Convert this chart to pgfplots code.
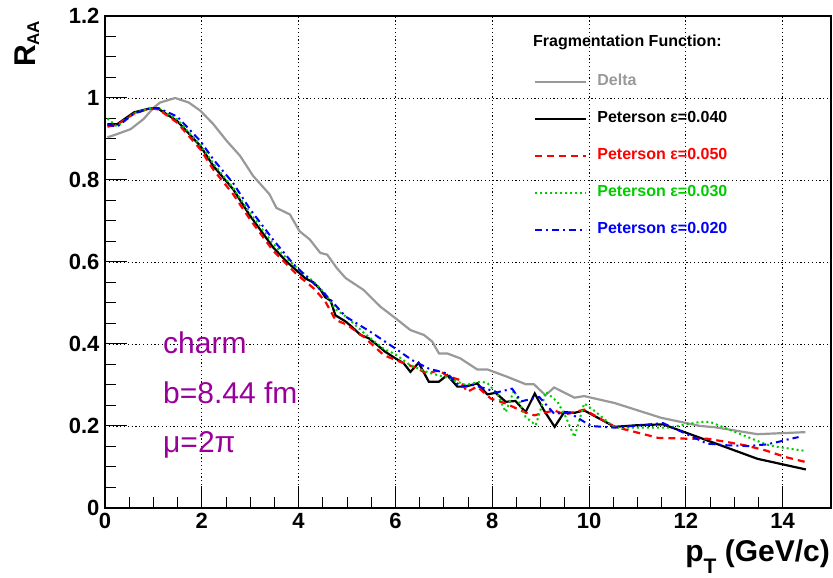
\documentclass[border=0pt]{standalone}
\usepackage{pgfplots}
\pgfplotsset{compat=1.18}
\usepackage{fontspec}
\setmainfont{Liberation Sans}
\definecolor{rgray}{rgb}{0.6,0.6,0.6}
\definecolor{rgreen}{rgb}{0.0,0.8,0.0}
\definecolor{rpurple}{rgb}{0.6,0.0,0.6}
\begin{document}
\begin{tikzpicture}
\useasboundingbox (0,0) rectangle (833pt,578pt);
\begin{axis}[
  at={(105pt,70pt)}, anchor=south west,
  scale only axis, width=726pt, height=492pt,
  xmin=0, xmax=15, ymin=0, ymax=1.2,
  xtick={0,2,...,14}, ytick={0,0.2,0.4,0.6,0.8,1.0,1.2},
  minor x tick num=3, minor y tick num=3,
  tick pos=left, tick align=inside,
  major tick length=22pt, minor tick length=11pt,
  tick style={black, line width=1pt},
  axis line style={line width=1.3pt},
  grid=major,
  major grid style={black, line width=0.9pt, dash pattern=on 1.2pt off 2.6pt},
  /pgf/number format/assume math mode=true,
  ticklabel style={font=\fontsize{22}{22}\selectfont\bfseries},
  yticklabel style={xshift=-2pt},
  xticklabel style={yshift=-2pt},
  xlabel={p\raisebox{-12pt}{\fontsize{21}{21}\selectfont T} (GeV/c)},
  xlabel style={at={(axis description cs:1,0)}, anchor=base east, yshift=-54pt, xshift=-1pt, inner sep=0pt, font=\fontsize{30}{30}\selectfont\bfseries},
  ylabel={R\raisebox{-4pt}{\fontsize{17}{17}\selectfont AA}},
  ylabel style={at={(axis description cs:-0.0964,0.896)}, anchor=base west, inner sep=0pt, font=\fontsize{30}{30}\selectfont\bfseries},
  legend style={draw=none, fill=none, at={(rel axis cs:0.5868,0.887)}, anchor=north west,
    font=\fontsize{16}{16}\selectfont\bfseries, row sep=21pt, column sep=0pt,
    nodes={inner sep=0pt, text height=12pt, text depth=4pt}},
  legend cell align=left,
  legend image code/.code={\draw[#1] (0pt,0pt) -- (51pt,0pt); \path (61pt,0pt);},
]
\addplot[rgray, line width=2.2pt] coordinates {
(0.05,0.904)(0.25,0.912)(0.53,0.924)(0.80,0.949)(1.01,0.977)(1.14,0.989)(1.45,1.0)(1.73,0.989)(1.97,0.969)(2.24,0.936)(2.51,0.896)(2.79,0.859)(3.06,0.810)(3.40,0.765)(3.54,0.732)(3.82,0.716)(4.02,0.675)(4.23,0.655)(4.45,0.622)(4.59,0.618)(4.79,0.585)(4.97,0.561)(5.34,0.532)(5.69,0.491)(6.0,0.463)(6.31,0.434)(6.59,0.422)(6.76,0.406)(6.90,0.377)(7.07,0.377)(7.34,0.365)(7.69,0.338)(7.90,0.338)(8.31,0.320)(8.69,0.302)(8.86,0.302)(9.10,0.275)(9.28,0.294)(9.70,0.269)(9.90,0.273)(10.53,0.256)(11.49,0.220)(12.3,0.200)(12.6,0.197)(13.48,0.180)(14.47,0.185)};
\addlegendentry{\textcolor{rgray}{Delta}}
\addplot[black, line width=2.2pt] coordinates {
(0.05,0.936)(0.25,0.936)(0.60,0.965)(0.94,0.975)(1.11,0.973)(1.49,0.944)(1.97,0.883)(2.24,0.834)(2.65,0.777)(2.99,0.714)(3.47,0.636)(3.76,0.600)(3.97,0.578)(4.14,0.560)(4.31,0.550)(4.45,0.533)(4.55,0.514)(4.66,0.506)(4.76,0.470)(4.97,0.455)(5.10,0.442)(5.28,0.422)(5.45,0.414)(5.62,0.398)(5.79,0.381)(6.0,0.365)(6.17,0.353)(6.31,0.332)(6.48,0.354)(6.69,0.308)(6.90,0.308)(7.07,0.324)(7.28,0.296)(7.45,0.296)(7.69,0.304)(7.90,0.277)(8.07,0.281)(8.28,0.259)(8.48,0.261)(8.69,0.234)(8.88,0.279)(9.07,0.238)(9.29,0.198)(9.49,0.234)(9.70,0.232)(9.90,0.238)(10.53,0.198)(11.01,0.202)(11.53,0.204)(12.3,0.171)(13.48,0.120)(14.48,0.094)};
\addlegendentry{\textcolor{black}{Peterson ε=0.040}}
\addplot[red, line width=2.2pt, dash pattern=on 7pt off 5pt] coordinates {
(0.05,0.930)(0.25,0.935)(0.60,0.962)(0.94,0.975)(1.11,0.972)(1.49,0.940)(1.97,0.875)(2.24,0.825)(2.65,0.765)(2.99,0.705)(3.47,0.628)(3.69,0.602)(3.97,0.569)(4.31,0.536)(4.55,0.504)(4.76,0.459)(5.0,0.447)(5.34,0.418)(5.76,0.373)(6.0,0.361)(6.38,0.344)(6.66,0.328)(6.90,0.336)(7.07,0.322)(7.34,0.312)(7.48,0.283)(7.69,0.296)(7.97,0.267)(8.28,0.255)(8.66,0.234)(8.87,0.226)(9.28,0.238)(9.5,0.228)(9.9,0.240)(10.53,0.198)(11.43,0.171)(12.05,0.169)(12.44,0.169)(12.85,0.161)(13.26,0.152)(13.66,0.140)(14.07,0.124)(14.48,0.112)};
\addlegendentry{\textcolor{red}{Peterson ε=0.050}}
\addplot[rgreen, line width=2pt, dash pattern=on 2pt off 3pt] coordinates {
(0.05,0.950)(0.25,0.930)(0.60,0.963)(0.94,0.976)(1.11,0.975)(1.49,0.948)(1.97,0.885)(2.24,0.840)(2.65,0.780)(2.99,0.720)(3.47,0.645)(3.76,0.608)(3.97,0.585)(4.31,0.552)(4.55,0.523)(4.76,0.485)(5.0,0.465)(5.34,0.428)(5.76,0.388)(6.0,0.375)(6.31,0.348)(6.69,0.330)(7.07,0.318)(7.45,0.300)(7.76,0.308)(7.9,0.305)(8.1,0.279)(8.28,0.234)(8.45,0.287)(8.69,0.222)(8.9,0.202)(9.11,0.283)(9.35,0.259)(9.52,0.222)(9.70,0.173)(9.9,0.255)(10.1,0.238)(10.53,0.196)(11.63,0.196)(12.3,0.210)(12.5,0.210)(13.66,0.155)(13.9,0.149)(14.48,0.139)};
\addlegendentry{\textcolor{rgreen}{Peterson ε=0.030}}
\addplot[blue, line width=2pt, dash pattern=on 7pt off 4pt on 2pt off 4pt] coordinates {
(0.05,0.935)(0.25,0.930)(0.60,0.962)(0.94,0.975)(1.11,0.975)(1.49,0.955)(1.97,0.895)(2.24,0.850)(2.65,0.792)(2.99,0.730)(3.47,0.655)(3.90,0.594)(4.38,0.540)(4.66,0.508)(4.97,0.467)(5.48,0.430)(6.0,0.389)(6.34,0.361)(6.69,0.340)(7.07,0.328)(7.34,0.296)(7.6,0.300)(7.9,0.290)(8.1,0.282)(8.41,0.291)(8.6,0.260)(8.97,0.271)(9.28,0.230)(9.6,0.232)(10.04,0.200)(10.53,0.196)(11.53,0.207)(12.44,0.157)(12.85,0.153)(13.28,0.151)(13.66,0.155)(13.9,0.161)(14.1,0.167)(14.33,0.173)};
\addlegendentry{\textcolor{blue}{Peterson ε=0.020}}
\node[anchor=base west, inner sep=0pt, font=\fontsize{16}{16}\selectfont\bfseries] at (rel axis cs:0.5895,0.937) {Fragmentation Function:};
\node[anchor=base west, inner sep=0pt, text=rpurple, font=\fontsize{30}{30}\selectfont] at (rel axis cs:0.0799,0.315) {charm};
\node[anchor=base west, inner sep=0pt, text=rpurple, font=\fontsize{30}{30}\selectfont] at (rel axis cs:0.0799,0.2134) {b=8.44 fm};
\node[anchor=base west, inner sep=0pt, text=rpurple, font=\fontsize{30}{30}\selectfont] at (rel axis cs:0.0799,0.1118) {μ=2π};
\end{axis}
\end{tikzpicture}
\end{document}
